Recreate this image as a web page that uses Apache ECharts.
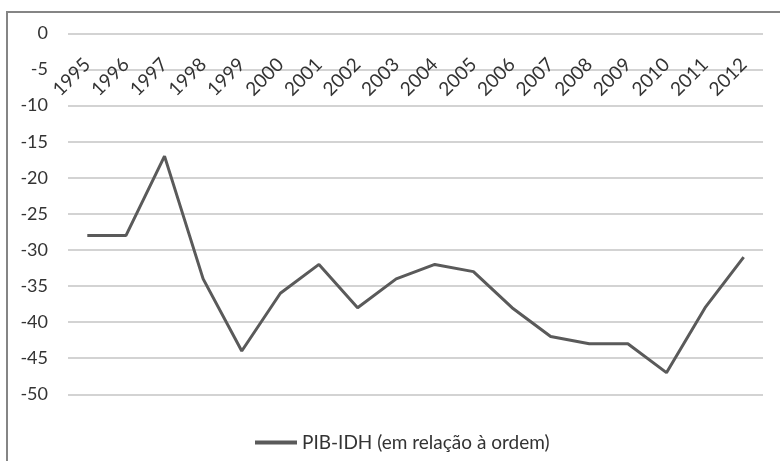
<!DOCTYPE html>
<html>
<head>
<meta charset="utf-8">
<script src="https://cdn.jsdelivr.net/npm/echarts@6/dist/echarts.min.js"></script>
<style>
html, body { margin: 0; padding: 0; background: #fff; }
#chart { width: 780px; height: 461px; }
</style>
</head>
<body>
<div id="chart"></div>
<script>
// anos
const years = ['1995', '1996', '1997', '1998', '1999', '2000', '2001', '2002', '2003',
  '2004', '2005', '2006', '2007', '2008', '2009', '2010', '2011', '2012']
// PIB-IDH (em relação à ordem)
const pibIdh = [-28, -28, -17, -34, -44, -36, -32, -38, -34,
  -32, -33, -38, -42, -43, -43, -47, -38, -31]
const seriesName = 'PIB-IDH (em relação à ordem)'

const font = 'Lato, "Open Sans", sans-serif'
const chart = echarts.init(document.getElementById('chart'))
chart.setOption({
  animation: false,
  graphic: [{
    type: 'rect',
    shape: { x: 7, y: 12, width: 820, height: 520 },
    style: { fill: 'none', stroke: '#858585', lineWidth: 2 },
    z: 100
  }],
  legend: {
    top: 428,
    left: 250,
    itemWidth: 42,
    itemHeight: 4,
    itemGap: 3,
    icon: 'rect',
    textStyle: { fontFamily: font, fontSize: 19, color: '#333' },
    data: [seriesName]
  },
  grid: { left: 68, right: 17, top: 33.5, bottom: 66.7 },
  xAxis: {
    type: 'category',
    position: 'top',
    boundaryGap: true,
    data: years,
    axisLine: { show: false },
    axisTick: { show: false },
    axisLabel: {
      inside: true,
      rotate: 45,
      margin: 28,
      interval: 0,
      fontFamily: font,
      fontSize: 19,
      color: '#333'
    }
  },
  yAxis: {
    type: 'value',
    min: -50,
    max: 0,
    interval: 5,
    axisLine: { show: false },
    axisTick: { show: false },
    axisLabel: { margin: 20, fontFamily: font, fontSize: 18, color: '#333' },
    splitLine: { lineStyle: { color: '#c4c4c4', width: 1.5 } }
  },
  series: [{
    name: seriesName,
    type: 'line',
    data: pibIdh,
    symbol: 'none',
    lineStyle: { color: '#5a5a5a', width: 3 },
    itemStyle: { color: '#5a5a5a' }
  }]
})
</script>
</body>
</html>
